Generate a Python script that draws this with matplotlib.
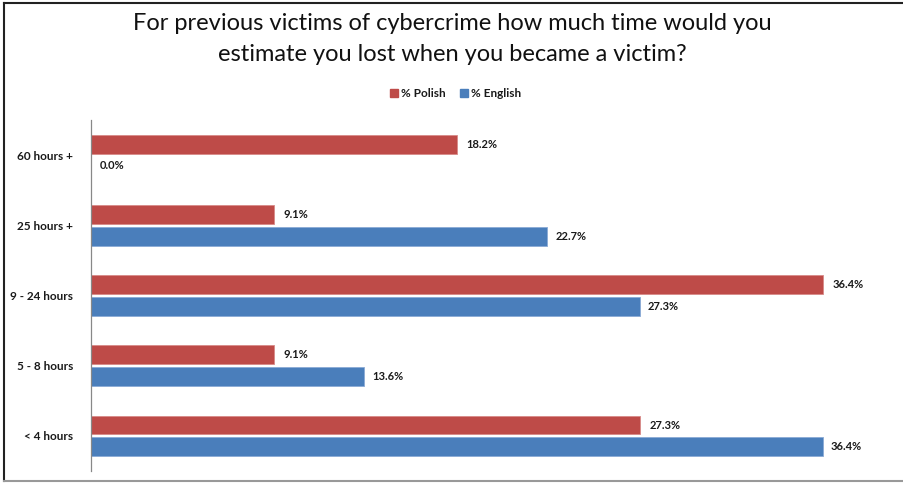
import numpy as np
import matplotlib
matplotlib.use('Agg')
import matplotlib.pyplot as plt
from matplotlib.lines import Line2D

# Data (bottom to top)
categories = ['< 4 hours', '5 - 8 hours', '9 - 24 hours', '25 hours +', '60 hours +']
polish = [27.3, 9.1, 36.4, 9.1, 18.2]
english = [36.4, 13.6, 27.3, 22.7, 0.0]

red = '#BE4B48'
blue = '#4A7EBB'

plt.rcParams['font.family'] = ['Lato', 'DejaVu Sans']

fig = plt.figure(figsize=(9.04, 4.83), dpi=100)
ax = fig.add_axes([91 / 904, 12 / 483, 804 / 904, 351 / 483])

y = np.arange(len(categories))
h = 0.27
off = 0.155
ax.barh(y + off, polish, height=h, color=red, edgecolor='#D88A88', linewidth=0.6, label='% Polish')
ax.barh(y - off, english, height=h, color=blue, edgecolor='#8AAAD6', linewidth=0.6, label='% English')

for yi, v in zip(y, polish):
    ax.annotate(f'{v:.1f}%', (v, yi + off), xytext=(7, 0), textcoords='offset points',
                va='center', ha='left', fontsize=8, fontweight='bold', color='#1a1a1a')
for yi, v in zip(y, english):
    ax.annotate(f'{v:.1f}%', (v, yi - off), xytext=(6, 0), textcoords='offset points',
                va='center', ha='left', fontsize=8, fontweight='bold', color='#1a1a1a')

ax.set_xlim(0, 40)
ax.set_ylim(-0.5, len(categories) - 0.5)
ax.set_yticks(y)
ax.set_yticklabels(categories, fontsize=8.5, fontweight='bold', color='#1a1a1a')
ax.tick_params(axis='y', length=0, pad=13)
ax.set_xticks([])
for s in ['top', 'right', 'bottom']:
    ax.spines[s].set_visible(False)
ax.spines['left'].set_color('#888888')
ax.spines['left'].set_linewidth(0.9)

fig.text(0.5, 0.952, 'For previous victims of cybercrime how much time would you',
         ha='center', va='center', fontsize=17, color='#111111')
fig.text(0.5, 0.887, 'estimate you lost when you became a victim?',
         ha='center', va='center', fontsize=17, color='#111111')

handles = [Line2D([], [], marker='s', linestyle='', color=red, markersize=6),
           Line2D([], [], marker='s', linestyle='', color=blue, markersize=6)]
leg = fig.legend(handles, ['% Polish', '% English'], loc='center', bbox_to_anchor=(0.503, 0.807),
                 ncol=2, frameon=False, fontsize=8.5, handletextpad=0.1, columnspacing=1.0,
                 handlelength=1.0)
for t in leg.get_texts():
    t.set_fontweight('bold')
    t.set_color('#1a1a1a')

# outer frame
fig.add_artist(Line2D([4 / 904, 4 / 904], [2 / 483, 480 / 483], transform=fig.transFigure,
                      color='#222222', linewidth=1.5))
fig.add_artist(Line2D([4 / 904, 1], [480 / 483, 480 / 483], transform=fig.transFigure,
                      color='#222222', linewidth=1.5))
fig.add_artist(Line2D([4 / 904, 1], [2 / 483, 2 / 483], transform=fig.transFigure,
                      color='#999999', linewidth=1.5))

fig.savefig('out.png', dpi=100)
